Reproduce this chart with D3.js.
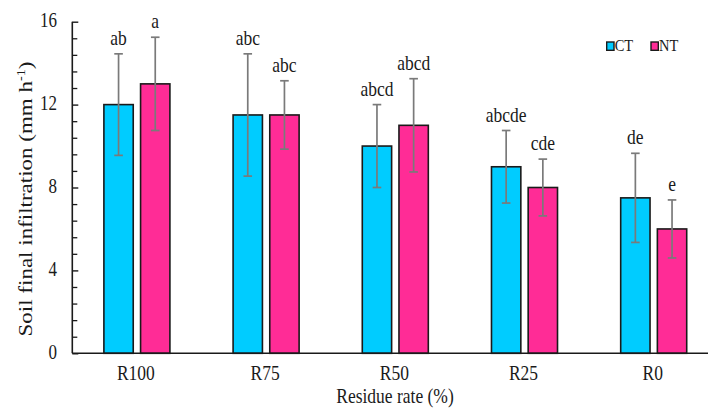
<!DOCTYPE html>
<html>
<head>
<meta charset="utf-8">
<script src="https://cdn.jsdelivr.net/npm/d3@7"></script>
<style>
  html, body { margin: 0; padding: 0; background: #fff; }
  svg { display: block; }
  text { font-family: "Liberation Serif", "Times New Roman", serif; fill: #1a1a1a; }
</style>
</head>
<body>
<svg id="chart" width="708" height="409"></svg>
<script>
// Residue rate treatments and the two tillage series
const categories = ["R100", "R75", "R50", "R25", "R0"];
const seriesNames = ["CT", "NT"];
const ctValues = [12, 11.5, 10, 9, 7.5];
const ntValues = [13, 11.5, 11, 8, 6];
const ctErrors = [2.45, 2.95, 2.0, 1.75, 2.15];
const ntErrors = [2.25, 1.65, 2.25, 1.37, 1.4];
const ctLetters = ["ab", "abc", "abcd", "abcde", "de"];
const ntLetters = ["a", "abc", "abcd", "cde", "e"];
const yMajorTicks = [0, 4, 8, 12, 16];

const colors = { CT: "#00CCFF", NT: "#FF2C96" };
const STRETCH = 1.18; // vertical glyph stretch used for all text

const svg = d3.select("#chart");
const plotLeft = 72.3, plotRight = 718.3, plotTop = 21.7, plotBottom = 353.3;

const x = d3.scaleBand().domain(categories).range([plotLeft, plotRight])
  .paddingInner(0.489).paddingOuter(0.2445);
const xs = d3.scaleBand().domain(seriesNames).range([0, x.bandwidth()]).paddingInner(0.2);
const y = d3.scaleLinear().domain([0, 16]).range([plotBottom, plotTop]);

const rows = [];
categories.forEach((c, i) => {
  rows.push({ cat: c, s: "CT", v: ctValues[i], e: ctErrors[i], lab: ctLetters[i] });
  rows.push({ cat: c, s: "NT", v: ntValues[i], e: ntErrors[i], lab: ntLetters[i] });
});

function stretchedText(g, px, py, str, size, anchor) {
  return g.append("text")
    .attr("transform", `translate(${px},${py}) scale(1,${STRETCH})`)
    .attr("text-anchor", anchor || "middle")
    .attr("font-size", size)
    .text(str);
}

// Bars
svg.append("g").selectAll("rect").data(rows).join("rect")
  .attr("x", d => x(d.cat) + xs(d.s))
  .attr("y", d => y(d.v))
  .attr("width", xs.bandwidth())
  .attr("height", d => y(0) - y(d.v))
  .attr("fill", d => colors[d.s])
  .attr("stroke", "#1a1a1a")
  .attr("stroke-width", 1.6);

// Error bars
const eg = svg.append("g").attr("stroke", "#7a7a7a").attr("stroke-width", 1.7);
rows.forEach(d => {
  const cx = x(d.cat) + xs(d.s) + xs.bandwidth() / 2;
  const y1 = y(d.v + d.e), y2 = y(d.v - d.e);
  eg.append("line").attr("x1", cx).attr("x2", cx).attr("y1", y1).attr("y2", y2);
  eg.append("line").attr("x1", cx - 4.3).attr("x2", cx + 4.3).attr("y1", y1).attr("y2", y1);
  eg.append("line").attr("x1", cx - 4.3).attr("x2", cx + 4.3).attr("y1", y2).attr("y2", y2);
});

// Significance letters above the error bars
const lg = svg.append("g");
rows.forEach(d => {
  const cx = x(d.cat) + xs(d.s) + xs.bandwidth() / 2;
  stretchedText(lg, cx, y(d.v + d.e) - 9, d.lab, 17.5);
});

// Y axis with inward ticks (major every 4, minor every 0.8)
const yAxis = d3.axisRight(y).tickValues(yMajorTicks).tickSize(6).tickFormat("");
const ya = svg.append("g").attr("transform", `translate(${plotLeft},0)`).call(yAxis);
ya.select(".domain").attr("d", `M0,${plotTop}V${plotBottom}`).attr("stroke", "#1a1a1a").attr("stroke-width", 1.6);
ya.selectAll(".tick line").attr("stroke", "#1a1a1a").attr("stroke-width", 1.4);
const minorVals = d3.range(1, 20).map(k => k * 0.8).filter(v => Math.abs(v / 4 - Math.round(v / 4)) > 1e-6);
const yMinor = d3.axisRight(y).tickValues(minorVals).tickSize(5).tickFormat("");
const ym = svg.append("g").attr("transform", `translate(${plotLeft},0)`).call(yMinor);
ym.select(".domain").remove();
ym.selectAll(".tick line").attr("stroke", "#1a1a1a").attr("stroke-width", 1.3);

// Y tick labels
const yl = svg.append("g");
yMajorTicks.forEach(t => stretchedText(yl, 57, y(t) + 5.5, String(t), 17, "end"));

// X axis line and category labels
svg.append("line").attr("x1", plotLeft).attr("x2", 708).attr("y1", plotBottom).attr("y2", plotBottom)
  .attr("stroke", "#1a1a1a").attr("stroke-width", 1.6);
const xl = svg.append("g");
categories.forEach(c => stretchedText(xl, x(c) + x.bandwidth() / 2 - 1, 379.5, c, 17.5));

// Axis titles
stretchedText(svg, 395, 403, "Residue rate (%)", 17.5);
const yt = svg.append("text")
  .attr("transform", `translate(32,199) rotate(-90) scale(${STRETCH},1)`)
  .attr("text-anchor", "middle")
  .attr("font-size", 19.5);
yt.append("tspan").text("Soil final infiltration (mm h");
yt.append("tspan").attr("font-size", 12).attr("dy", -7).text("-1");
yt.append("tspan").attr("dy", 7).text(")");

// Legend
const leg = svg.append("g");
[["CT", 606.7], ["NT", 651]].forEach(([s, lx]) => {
  leg.append("rect").attr("x", lx).attr("y", 42).attr("width", 7.3).attr("height", 8.3)
    .attr("fill", colors[s]).attr("stroke", "#1a1a1a").attr("stroke-width", 1.4);
  stretchedText(leg, lx + 8, 50.5, s, 14.5, "start");
});
</script>
</body>
</html>
